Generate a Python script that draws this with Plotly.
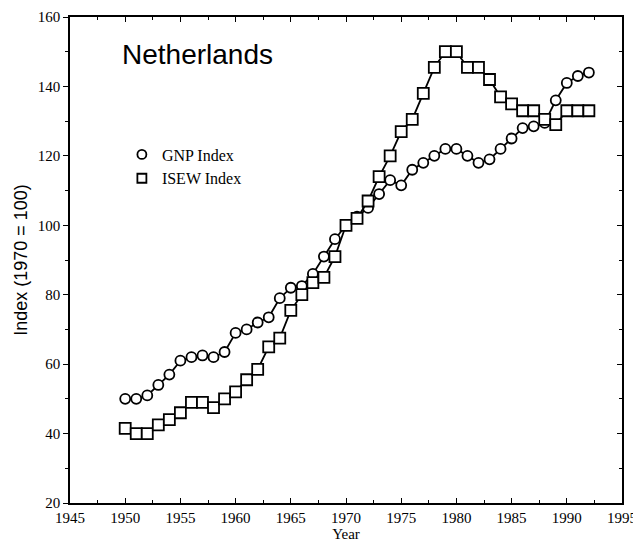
import plotly.graph_objects as go

years = list(range(1950, 1993))
gnp_index = [50, 50, 51, 54, 57, 61, 62, 62.5, 62, 63.5,
             69, 70, 72, 73.5, 79, 82, 82.5, 86, 91, 96,
             100, 102.5, 105, 109, 113, 111.5, 116, 118, 120, 122,
             122, 120, 118, 119, 122, 125, 128, 128.5, 129.5, 136,
             141, 143, 144]
isew_index = [41.5, 40, 40, 42.5, 44, 46, 49, 49, 47.5, 50,
              52, 55.5, 58.5, 65, 67.5, 75.5, 80, 83.5, 85, 91,
              100, 102, 107, 114, 120, 127, 130.5, 138, 145.5, 150,
              150, 145.5, 145.5, 142, 137, 135, 133, 133, 130.5, 129,
              133, 133, 133]
series_names = ["GNP Index", "ISEW Index"]
x_ticks = list(range(1945, 2000, 5))
y_ticks = list(range(20, 180, 20))

serif = "Liberation Serif"
sans = "Liberation Sans"

fig = go.Figure()
fig.add_trace(go.Scatter(x=years, y=gnp_index, mode="lines+markers",
                         line=dict(color="black", width=1.8),
                         marker=dict(symbol="circle", color="white", size=10,
                                     line=dict(color="black", width=1.8)),
                         showlegend=False))
fig.add_trace(go.Scatter(x=years, y=isew_index, mode="lines+markers",
                         line=dict(color="black", width=1.8),
                         marker=dict(symbol="square", color="white", size=11,
                                     line=dict(color="black", width=1.8)),
                         showlegend=False))
# legend-only entries (markers only)
legmk = dict(color="white", size=9, line=dict(color="black", width=1.8))
fig.add_trace(go.Scatter(x=[None], y=[None], mode="markers", name=series_names[0],
                         marker=dict(symbol="circle", **legmk)))
fig.add_trace(go.Scatter(x=[None], y=[None], mode="markers", name=series_names[1],
                         marker=dict(symbol="square", **legmk)))
# invisible trace for mirror axes
fig.add_trace(go.Scatter(x=[1945], y=[20], xaxis="x2", yaxis="y2", mode="markers",
                         marker=dict(opacity=0), showlegend=False, hoverinfo="skip"))

fig.add_annotation(text="Netherlands", x=0.09, y=0.922, xref="paper", yref="paper",
                   xanchor="left", yanchor="middle",
                   showarrow=False, font=dict(family=sans, size=28, color="black"))

tk = dict(ticklen=5, tickwidth=1.3, tickcolor="black")
mn = dict(ticklen=3, tickwidth=1.3, tickcolor="black")

fig.update_layout(
    width=633, height=534,
    margin=dict(l=62, r=19, t=9, b=39, autoexpand=False),
    paper_bgcolor="white", plot_bgcolor="white",
    font=dict(family=serif, size=15, color="black"),
    legend=dict(x=0.094, y=0.752, xanchor="left", yanchor="top",
                bgcolor="rgba(0,0,0,0)", font=dict(family=serif, size=16),
                itemwidth=30, tracegroupgap=0),
    xaxis=dict(range=[1945, 1995], tickvals=x_ticks, showgrid=False, zeroline=False,
               showline=True, linecolor="black", linewidth=1.5, automargin=False,
               ticks="inside", ticklabeloverflow="allow", **tk,
               minor=dict(ticks="inside", dtick=2.5, tick0=1945, **mn),
               title=dict(text="Year", font=dict(family=serif, size=15), standoff=7),
               tickfont=dict(family=serif, size=15)),
    yaxis=dict(range=[20, 160], tickvals=y_ticks, showgrid=False, zeroline=False,
               showline=True, linecolor="black", linewidth=1.5, automargin=False,
               ticks="outside", ticklabeloverflow="allow", **tk,
               minor=dict(ticks="outside", dtick=10, tick0=20, **mn),
               title=dict(text="Index (1970 = 100)", font=dict(family=sans, size=18), standoff=5),
               tickfont=dict(family=serif, size=15)),
    xaxis2=dict(range=[1945, 1995], overlaying="x", side="top", showgrid=False, zeroline=False,
                showline=True, linecolor="black", linewidth=1.5, showticklabels=False,
                automargin=False, tickvals=x_ticks, ticks="inside", **tk,
                minor=dict(ticks="inside", dtick=2.5, tick0=1945, **mn)),
    yaxis2=dict(range=[20, 160], overlaying="y", side="right", showgrid=False, zeroline=False,
                showline=True, linecolor="black", linewidth=1.5, showticklabels=False,
                automargin=False, tickvals=y_ticks, ticks="inside", **tk,
                minor=dict(ticks="inside", dtick=10, tick0=20, **mn)),
)

fig.write_html("out.html")
